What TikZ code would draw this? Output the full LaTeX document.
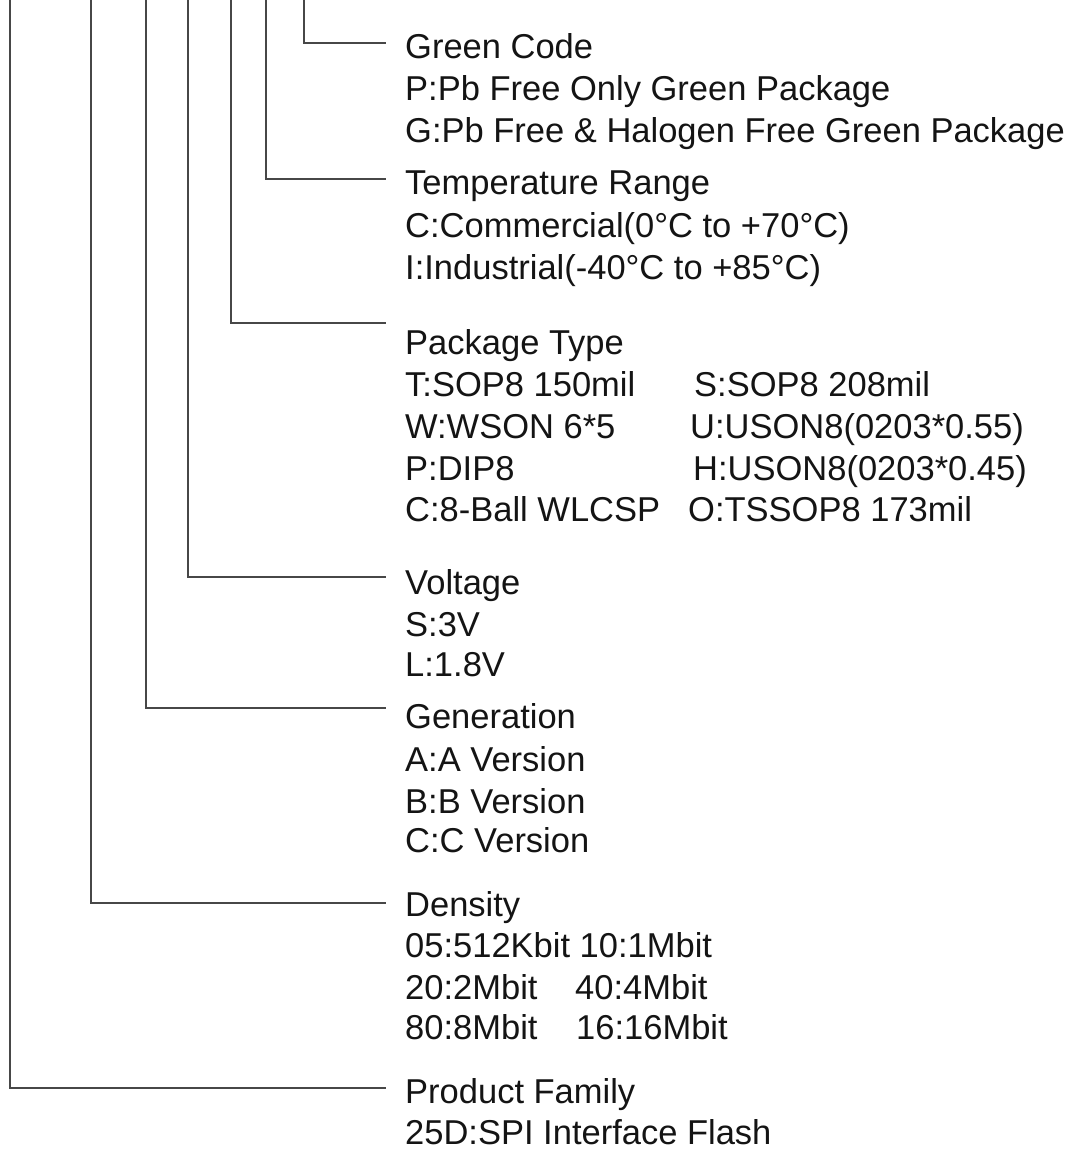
\documentclass[tikz,border=0pt]{standalone}
\usepackage{fontspec}
\setmainfont{Liberation Sans}
\begin{document}
\begin{tikzpicture}[x=1pt,y=-1pt,
  txt/.style={anchor=base west, inner sep=0pt, font=\fontsize{34.5}{40}\selectfont, text=black!92},
  conn/.style={draw=black!72, line width=2pt}]
\useasboundingbox[fill=white] (0,0) rectangle (1074,1150);

% ---- Green Code
\node[txt] (gcT) at (405,59) {Green Code};
\node[txt] (gcA) at (405,101) {P:Pb Free Only Green Package};
\node[txt] (gcB) at (405,143) {G:Pb Free \& Halogen Free Green Package};
% ---- Temperature
\node[txt] (trT) at (405,195) {Temperature Range};
\node[txt] (trA) at (405,237) {C:Commercial(0°C to +70°C)};
\node[txt] (trB) at (405,279) {I:Industrial(-40°C to +85°C)};
% ---- Package
\node[txt] (ptT) at (405,354) {Package Type};
\node[txt] (ptA) at (405,396) {T:SOP8 150mil};
\node[txt] (ptB) at (405,438) {W:WSON 6*5};
\node[txt] (ptC) at (405,480) {P:DIP8};
\node[txt] (ptD) at (405,521) {C:8-Ball WLCSP};
\node[txt] (ptE) at (694,396) {S:SOP8 208mil};
\node[txt] (ptF) at (690,438) {U:USON8(0203*0.55)};
\node[txt] (ptG) at (693,480) {H:USON8(0203*0.45)};
\node[txt] (ptH) at (688,521) {O:TSSOP8 173mil};
% ---- Voltage
\node[txt] (vtT) at (405,594) {Voltage};
\node[txt] (vtA) at (405,636) {S:3V};
\node[txt] (vtB) at (405,676) {L:1.8V};
% ---- Generation
\node[txt] (gnT) at (405,728) {Generation};
\node[txt] (gnA) at (405,771) {A:A Version};
\node[txt] (gnB) at (405,813) {B:B Version};
\node[txt] (gnC) at (405,852) {C:C Version};
% ---- Density
\node[txt] (dnT) at (405,916) {Density};
\node[txt] (dnA) at (405,957) {05:512Kbit 10:1Mbit};
\node[txt] (dnB) at (405,999) {20:2Mbit};
\node[txt] (dnC) at (405,1039) {80:8Mbit};
\node[txt] (dnD) at (575,999) {40:4Mbit};
\node[txt] (dnE) at (576,1039) {16:16Mbit};
% ---- Product Family
\node[txt] (pfT) at (405,1103) {Product Family};
\node[txt] (pfA) at (405,1144) {25D:SPI Interface Flash};

% ---- connectors
\coordinate (c1s) at (304,0);   \coordinate (c1e) at (386,43);
\coordinate (c2s) at (266,0);   \coordinate (c2e) at (386,179);
\coordinate (c3s) at (231,0);   \coordinate (c3e) at (386,323);
\coordinate (c4s) at (188,0);   \coordinate (c4e) at (386,577);
\coordinate (c5s) at (146,0);   \coordinate (c5e) at (386,708);
\coordinate (c6s) at (91,0);    \coordinate (c6e) at (386,903);
\coordinate (c7s) at (10,0);    \coordinate (c7e) at (386,1088);
\foreach \i in {1,...,7} {\draw[conn] (c\i s) |- (c\i e);}
\end{tikzpicture}
\end{document}
